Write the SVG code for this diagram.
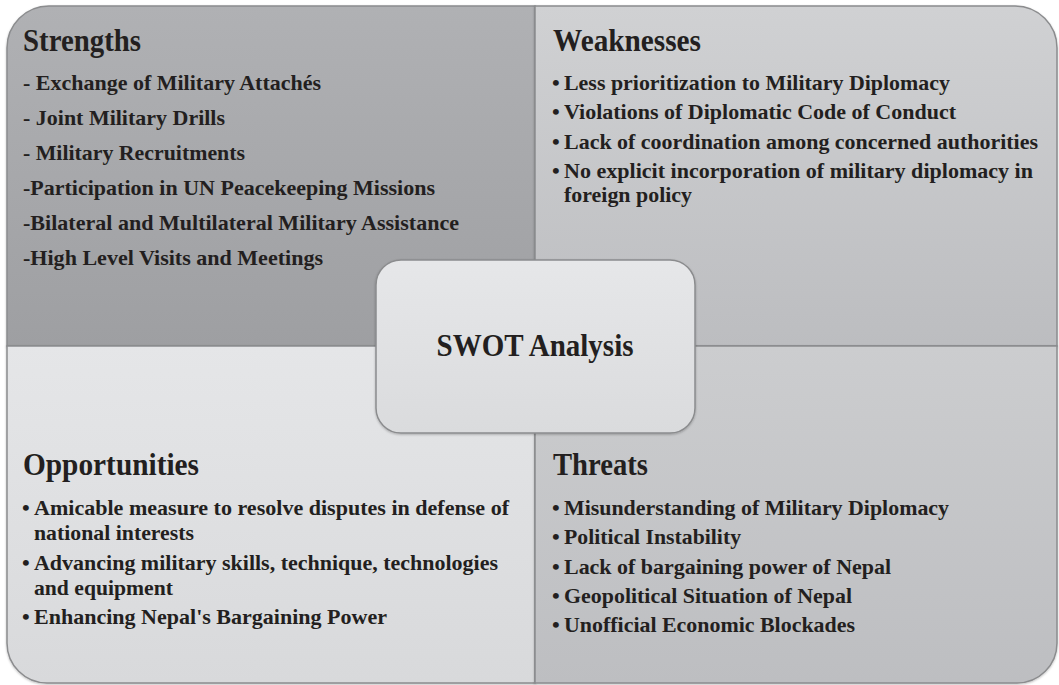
<svg xmlns="http://www.w3.org/2000/svg" width="1059" height="685" viewBox="0 0 1059 685">
  <defs>
    <linearGradient id="gS" x1="0" y1="0" x2="0" y2="1">
      <stop offset="0" stop-color="#b0b1b4"/>
      <stop offset="1" stop-color="#9e9fa2"/>
    </linearGradient>
    <linearGradient id="gW" x1="0" y1="0" x2="0" y2="1">
      <stop offset="0" stop-color="#d0d1d3"/>
      <stop offset="1" stop-color="#bcbdc0"/>
    </linearGradient>
    <linearGradient id="gO" x1="0" y1="0" x2="0" y2="1">
      <stop offset="0" stop-color="#e5e6e8"/>
      <stop offset="1" stop-color="#d8d9db"/>
    </linearGradient>
    <linearGradient id="gT" x1="0" y1="0" x2="0" y2="1">
      <stop offset="0" stop-color="#cccdcf"/>
      <stop offset="1" stop-color="#bdbec1"/>
    </linearGradient>
    <linearGradient id="gC" x1="0" y1="0" x2="0" y2="1">
      <stop offset="0" stop-color="#e6e7e9"/>
      <stop offset="1" stop-color="#dadbdd"/>
    </linearGradient>
    <filter id="soft" x="-5%" y="-5%" width="110%" height="110%">
      <feDropShadow dx="0" dy="1" stdDeviation="1" flood-color="#000" flood-opacity="0.25"/>
    </filter>
  </defs>
  <style>
    .quad { stroke: #8b8c8e; stroke-width: 1.5; }
    .txt { font-family: "Liberation Serif", "Times New Roman", serif; font-weight: bold; fill: #231f20; }
    .head { font-size: 32px; }
    .body { font-size: 22px; }
  </style>
  <rect width="1059" height="685" fill="#ffffff"/>

  <!-- Strengths (top-left) -->
  <g id="strengths">
    <path class="quad" fill="url(#gS)" filter="url(#soft)" d="M7,346 V48 A42,42 0 0 1 49,6 H535 V346 Z"/>
    <text class="txt head" x="23" y="51" textLength="118" lengthAdjust="spacingAndGlyphs">Strengths</text>
    <g class="txt body">
      <text x="23" y="89.5" textLength="298" lengthAdjust="spacingAndGlyphs">- Exchange of Military Attachés</text>
      <text x="23" y="124.5" textLength="202" lengthAdjust="spacingAndGlyphs">- Joint Military Drills</text>
      <text x="23" y="159.5" textLength="222" lengthAdjust="spacingAndGlyphs">- Military Recruitments</text>
      <text x="23" y="194.5" textLength="412" lengthAdjust="spacingAndGlyphs">-Participation in UN Peacekeeping Missions</text>
      <text x="23" y="229.5" textLength="436" lengthAdjust="spacingAndGlyphs">-Bilateral and Multilateral Military Assistance</text>
      <text x="23" y="264.5" textLength="300" lengthAdjust="spacingAndGlyphs">-High Level Visits and Meetings</text>
    </g>
  </g>

  <!-- Weaknesses (top-right) -->
  <g id="weaknesses">
    <path class="quad" fill="url(#gW)" filter="url(#soft)" d="M535,6 H1015 A42,42 0 0 1 1057,48 V346 H535 Z"/>
    <text class="txt head" x="553" y="51" textLength="148" lengthAdjust="spacingAndGlyphs">Weaknesses</text>
    <g class="txt body">
      <text x="552" y="90">•</text>
      <text x="564" y="90" textLength="386" lengthAdjust="spacingAndGlyphs">Less prioritization to Military Diplomacy</text>
      <text x="552" y="119.3">•</text>
      <text x="564" y="119.3" textLength="392" lengthAdjust="spacingAndGlyphs">Violations of Diplomatic Code of Conduct</text>
      <text x="552" y="148.5">•</text>
      <text x="564" y="148.5" textLength="474" lengthAdjust="spacingAndGlyphs">Lack of coordination among concerned authorities</text>
      <text x="552" y="177.7">•</text>
      <text x="564" y="177.7" textLength="469" lengthAdjust="spacingAndGlyphs">No explicit incorporation of military diplomacy in</text>
      <text x="564" y="202" textLength="128" lengthAdjust="spacingAndGlyphs">foreign policy</text>
    </g>
  </g>

  <!-- Opportunities (bottom-left) -->
  <g id="opportunities">
    <path class="quad" fill="url(#gO)" filter="url(#soft)" d="M7,346 H535 V683 H47 A40,40 0 0 1 7,643 Z"/>
    <text class="txt head" x="23" y="475" textLength="176" lengthAdjust="spacingAndGlyphs">Opportunities</text>
    <g class="txt body">
      <text x="22" y="515">•</text>
      <text x="34" y="515" textLength="475" lengthAdjust="spacingAndGlyphs">Amicable measure to resolve disputes in defense of</text>
      <text x="34" y="540" textLength="160" lengthAdjust="spacingAndGlyphs">national interests</text>
      <text x="22" y="570">•</text>
      <text x="34" y="570" textLength="464" lengthAdjust="spacingAndGlyphs">Advancing military skills, technique, technologies</text>
      <text x="34" y="595" textLength="139" lengthAdjust="spacingAndGlyphs">and equipment</text>
      <text x="22" y="624">•</text>
      <text x="34" y="624" textLength="353" lengthAdjust="spacingAndGlyphs">Enhancing Nepal's Bargaining Power</text>
    </g>
  </g>

  <!-- Threats (bottom-right) -->
  <g id="threats">
    <path class="quad" fill="url(#gT)" filter="url(#soft)" d="M535,346 H1057 V643 A40,40 0 0 1 1017,683 H535 Z"/>
    <text class="txt head" x="553" y="475" textLength="95" lengthAdjust="spacingAndGlyphs">Threats</text>
    <g class="txt body">
      <text x="552" y="515">•</text>
      <text x="564" y="515" textLength="385" lengthAdjust="spacingAndGlyphs">Misunderstanding of Military Diplomacy</text>
      <text x="552" y="544.3">•</text>
      <text x="564" y="544.3" textLength="177" lengthAdjust="spacingAndGlyphs">Political Instability</text>
      <text x="552" y="573.5">•</text>
      <text x="564" y="573.5" textLength="327" lengthAdjust="spacingAndGlyphs">Lack of bargaining power of Nepal</text>
      <text x="552" y="603">•</text>
      <text x="564" y="603" textLength="288" lengthAdjust="spacingAndGlyphs">Geopolitical Situation of Nepal</text>
      <text x="552" y="632">•</text>
      <text x="564" y="632" textLength="291" lengthAdjust="spacingAndGlyphs">Unofficial Economic Blockades</text>
    </g>
  </g>

  <!-- Centre label -->
  <g id="swot-analysis">
    <rect x="376" y="260" width="319" height="173" rx="25" ry="25" fill="url(#gC)" stroke="#8b8c8e" stroke-width="1.5" filter="url(#soft)"/>
    <text class="txt head" x="535" y="356" text-anchor="middle" textLength="197" lengthAdjust="spacingAndGlyphs">SWOT Analysis</text>
  </g>
</svg>
